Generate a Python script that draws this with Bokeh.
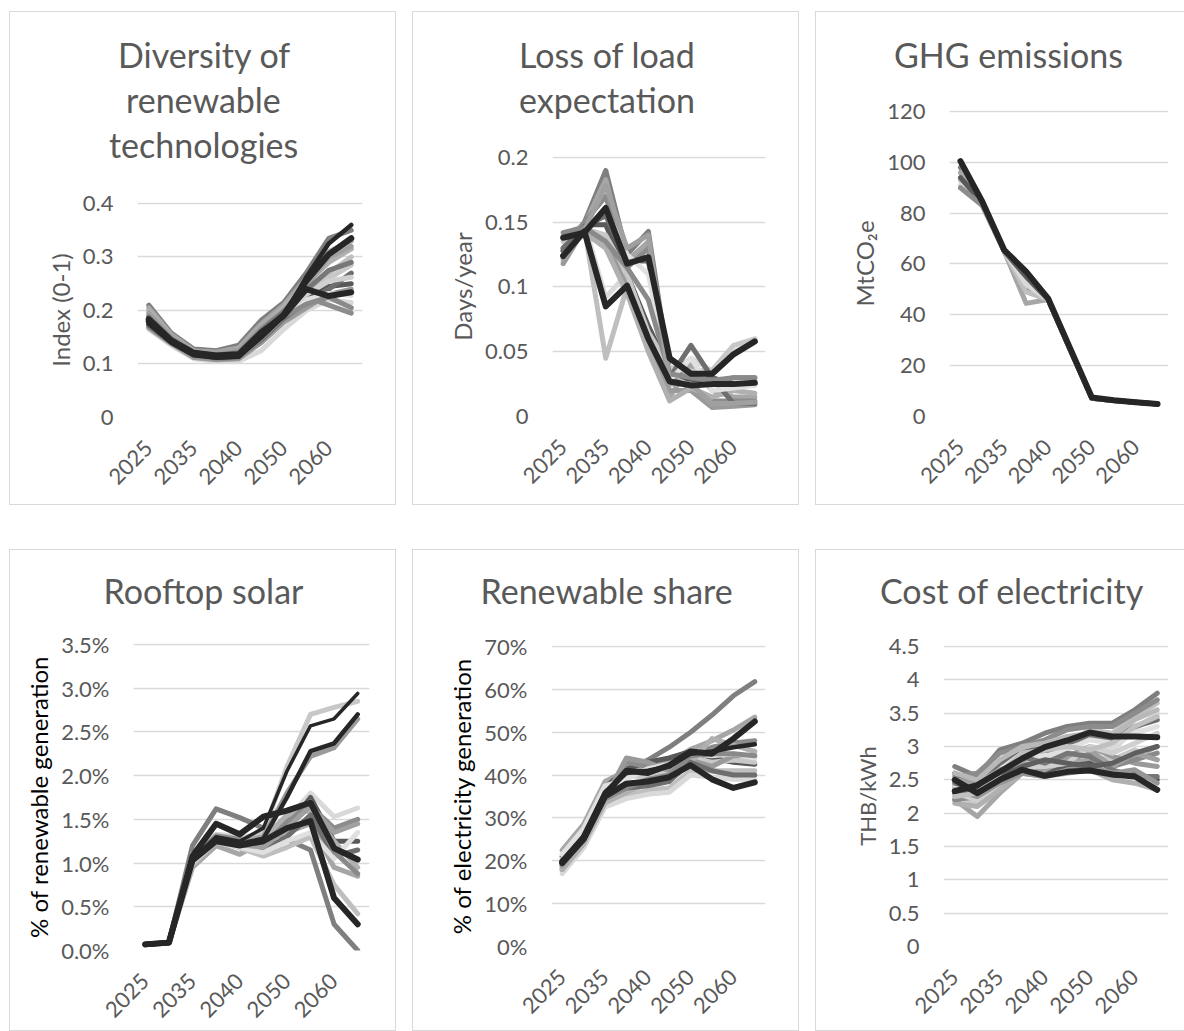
import math
from bokeh.plotting import figure
from bokeh.layouts import row, column, Spacer
from bokeh.models import Range1d, FixedTicker, Title
from bokeh.embed import file_html
from bokeh.resources import INLINE

# ---------------- data ----------------
periods = ["2025", "2030", "2035", "2037", "2040", "2045", "2050", "2055", "2060", "2065"]
shown_period_idx = [0, 2, 4, 6, 8]

# Diversity of renewable technologies (index 0-1)
div_grey = [
    [0.210, 0.158, 0.128, 0.125, 0.135, 0.182, 0.215, 0.270, 0.335, 0.350],
    [0.205, 0.155, 0.125, 0.122, 0.130, 0.175, 0.210, 0.260, 0.310, 0.330],
    [0.170, 0.140, 0.115, 0.110, 0.112, 0.150, 0.190, 0.230, 0.270, 0.300],
    [0.165, 0.135, 0.110, 0.105, 0.105, 0.125, 0.165, 0.200, 0.220, 0.215],
    [0.175, 0.142, 0.118, 0.115, 0.118, 0.155, 0.190, 0.220, 0.245, 0.250],
    [0.190, 0.148, 0.120, 0.118, 0.120, 0.160, 0.200, 0.225, 0.210, 0.195],
    [0.180, 0.145, 0.120, 0.113, 0.115, 0.160, 0.195, 0.235, 0.260, 0.285],
    [0.168, 0.138, 0.112, 0.108, 0.110, 0.140, 0.178, 0.205, 0.230, 0.240],
    [0.200, 0.150, 0.122, 0.120, 0.128, 0.170, 0.205, 0.250, 0.290, 0.315],
    [0.172, 0.140, 0.116, 0.112, 0.114, 0.145, 0.185, 0.215, 0.240, 0.270],
    [0.185, 0.146, 0.120, 0.116, 0.118, 0.158, 0.195, 0.220, 0.232, 0.228],
    [0.178, 0.143, 0.117, 0.110, 0.112, 0.148, 0.188, 0.212, 0.225, 0.205],
    [0.195, 0.150, 0.124, 0.121, 0.126, 0.168, 0.200, 0.245, 0.300, 0.320],
    [0.182, 0.144, 0.118, 0.114, 0.117, 0.156, 0.193, 0.230, 0.255, 0.262],
    [0.188, 0.147, 0.121, 0.117, 0.121, 0.163, 0.198, 0.238, 0.275, 0.290],
]
div_black = [
    [0.175, 0.140, 0.117, 0.112, 0.114, 0.150, 0.190, 0.262, 0.325, 0.360],
    [0.180, 0.142, 0.118, 0.113, 0.115, 0.156, 0.192, 0.255, 0.305, 0.335],
    [0.184, 0.144, 0.121, 0.116, 0.118, 0.159, 0.190, 0.240, 0.227, 0.234],
]

# Loss of load expectation (days/year)
lole_grey = [
    [0.128, 0.150, 0.190, 0.125, 0.143, 0.035, 0.030, 0.025, 0.030, 0.030],
    [0.125, 0.148, 0.183, 0.120, 0.135, 0.015, 0.040, 0.020, 0.015, 0.015],
    [0.120, 0.145, 0.045, 0.100, 0.060, 0.030, 0.025, 0.010, 0.010, 0.012],
    [0.140, 0.148, 0.092, 0.110, 0.060, 0.033, 0.045, 0.035, 0.050, 0.058],
    [0.128, 0.148, 0.148, 0.110, 0.070, 0.035, 0.028, 0.030, 0.025, 0.025],
    [0.130, 0.150, 0.170, 0.115, 0.130, 0.030, 0.022, 0.012, 0.012, 0.012],
    [0.135, 0.145, 0.140, 0.110, 0.065, 0.038, 0.035, 0.036, 0.055, 0.060],
    [0.118, 0.145, 0.135, 0.100, 0.055, 0.020, 0.020, 0.007, 0.008, 0.009],
    [0.125, 0.142, 0.130, 0.095, 0.050, 0.012, 0.022, 0.015, 0.020, 0.018],
    [0.130, 0.147, 0.155, 0.120, 0.120, 0.030, 0.055, 0.030, 0.010, 0.010],
    [0.140, 0.145, 0.160, 0.125, 0.110, 0.028, 0.045, 0.020, 0.022, 0.024],
    [0.142, 0.146, 0.135, 0.115, 0.090, 0.033, 0.030, 0.028, 0.030, 0.030],
    [0.122, 0.144, 0.178, 0.130, 0.140, 0.025, 0.025, 0.010, 0.010, 0.011],
]
lole_black = [
    [0.138, 0.142, 0.161, 0.118, 0.123, 0.045, 0.033, 0.033, 0.048, 0.058],
    [0.124, 0.143, 0.085, 0.101, 0.060, 0.027, 0.024, 0.025, 0.025, 0.026],
]

# GHG emissions (MtCO2e)
ghg_grey = [
    [98.0, 84.0, 65.0, 50.0, 46.0, 26.5, 7.2, 6.3, 5.6, 4.9],
    [96.0, 83.0, 65.0, 44.5, 46.0, 26.5, 7.2, 6.3, 5.6, 4.9],
    [93.0, 83.0, 65.0, 49.0, 46.0, 26.5, 7.2, 6.3, 5.6, 4.9],
    [91.0, 83.0, 65.0, 52.0, 46.0, 26.5, 7.2, 6.3, 5.6, 4.9],
    [94.0, 84.0, 65.0, 55.0, 46.0, 26.5, 7.2, 6.3, 5.6, 4.9],
    [90.0, 83.0, 65.0, 57.0, 46.0, 26.5, 7.2, 6.3, 5.6, 4.9],
]
ghg_black = [
    [100.5, 84.5, 65.5, 57.0, 46.5, 27.0, 7.5, 6.4, 5.6, 4.9],
]

# Rooftop solar (% of renewable generation)
roof_grey = [
    [0.0007, 0.0009, 0.0120, 0.0162, 0.0152, 0.0140, 0.0127, 0.0115, 0.0030, 0.0000],
    [0.0007, 0.0009, 0.0095, 0.0120, 0.0110, 0.0125, 0.0135, 0.0145, 0.0095, 0.0085],
    [0.0007, 0.0009, 0.0098, 0.0125, 0.0117, 0.0108, 0.0118, 0.0130, 0.0075, 0.0042],
    [0.0007, 0.0009, 0.0110, 0.0133, 0.0130, 0.0120, 0.0150, 0.0180, 0.0153, 0.0163],
    [0.0007, 0.0009, 0.0108, 0.0130, 0.0128, 0.0125, 0.0140, 0.0175, 0.0125, 0.0125],
    [0.0007, 0.0009, 0.0102, 0.0127, 0.0123, 0.0120, 0.0148, 0.0165, 0.0140, 0.0150],
    [0.0007, 0.0009, 0.0107, 0.0132, 0.0128, 0.0135, 0.0210, 0.0270, 0.0278, 0.0285],
    [0.0007, 0.0009, 0.0104, 0.0128, 0.0124, 0.0130, 0.0180, 0.0222, 0.0232, 0.0265],
    [0.0007, 0.0009, 0.0105, 0.0129, 0.0125, 0.0128, 0.0155, 0.0160, 0.0125, 0.0095],
    [0.0007, 0.0009, 0.0103, 0.0127, 0.0122, 0.0115, 0.0130, 0.0155, 0.0108, 0.0115],
    [0.0007, 0.0009, 0.0101, 0.0124, 0.0118, 0.0112, 0.0125, 0.0135, 0.0105, 0.0135],
    [0.0007, 0.0009, 0.0106, 0.0131, 0.0127, 0.0123, 0.0145, 0.0170, 0.0113, 0.0088],
    [0.0007, 0.0009, 0.0103, 0.0126, 0.0121, 0.0118, 0.0140, 0.0165, 0.0135, 0.0145],
]
roof_black = [
    [0.0007, 0.0009, 0.0105, 0.0130, 0.0125, 0.0140, 0.0205, 0.0257, 0.0265, 0.0294],
    [0.0007, 0.0009, 0.0104, 0.0128, 0.0122, 0.0128, 0.0175, 0.0228, 0.0237, 0.0270],
    [0.0007, 0.0009, 0.0103, 0.0125, 0.0120, 0.0125, 0.0140, 0.0148, 0.0060, 0.0030],
    [0.0007, 0.0009, 0.0108, 0.0145, 0.0133, 0.0153, 0.0160, 0.0169, 0.0117, 0.0104],
]

# Renewable share (% of electricity generation)
res_grey = [
    [0.190, 0.250, 0.350, 0.410, 0.435, 0.465, 0.500, 0.540, 0.585, 0.618],
    [0.225, 0.285, 0.385, 0.410, 0.420, 0.430, 0.460, 0.480, 0.505, 0.535],
    [0.175, 0.235, 0.330, 0.350, 0.365, 0.370, 0.410, 0.410, 0.410, 0.410],
    [0.170, 0.230, 0.325, 0.345, 0.355, 0.360, 0.400, 0.395, 0.390, 0.390],
    [0.210, 0.270, 0.370, 0.415, 0.430, 0.440, 0.455, 0.440, 0.430, 0.425],
    [0.180, 0.240, 0.340, 0.430, 0.420, 0.400, 0.440, 0.465, 0.475, 0.480],
    [0.205, 0.260, 0.365, 0.400, 0.395, 0.410, 0.440, 0.430, 0.435, 0.430],
    [0.185, 0.245, 0.345, 0.440, 0.430, 0.410, 0.435, 0.420, 0.445, 0.445],
    [0.180, 0.240, 0.335, 0.360, 0.380, 0.390, 0.430, 0.485, 0.470, 0.455],
    [0.200, 0.260, 0.355, 0.370, 0.375, 0.385, 0.430, 0.410, 0.400, 0.400],
    [0.215, 0.275, 0.375, 0.390, 0.415, 0.425, 0.450, 0.445, 0.450, 0.440],
    [0.190, 0.250, 0.345, 0.370, 0.390, 0.400, 0.445, 0.450, 0.450, 0.445],
]
res_black = [
    [0.200, 0.255, 0.360, 0.405, 0.410, 0.420, 0.450, 0.455, 0.465, 0.472],
    [0.195, 0.250, 0.350, 0.380, 0.385, 0.395, 0.423, 0.390, 0.370, 0.383],
    [0.198, 0.255, 0.355, 0.410, 0.405, 0.423, 0.455, 0.450, 0.485, 0.525],
]

# Cost of electricity (THB/kWh)
cost_grey = [
    [2.70, 2.55, 2.95, 3.05, 3.20, 3.30, 3.35, 3.35, 3.55, 3.80],
    [2.20, 1.95, 2.30, 2.60, 2.70, 2.75, 2.80, 2.70, 2.85, 3.00],
    [2.45, 2.50, 2.70, 2.95, 3.00, 3.05, 3.25, 3.20, 3.45, 3.65],
    [2.30, 2.30, 2.55, 2.85, 2.90, 2.85, 3.00, 2.95, 3.25, 3.50],
    [2.40, 2.20, 2.45, 2.62, 2.60, 2.70, 2.75, 2.55, 2.60, 2.50],
    [2.55, 2.60, 2.90, 3.00, 3.10, 3.25, 3.30, 3.30, 3.50, 3.70],
    [2.25, 2.15, 2.40, 2.75, 2.80, 2.90, 2.85, 2.80, 2.95, 2.80],
    [2.35, 2.35, 2.60, 2.80, 2.95, 2.85, 3.00, 2.85, 2.75, 2.70],
    [2.15, 2.10, 2.35, 2.60, 2.55, 2.60, 2.65, 2.50, 2.45, 2.35],
    [2.60, 2.45, 2.75, 2.90, 3.00, 3.05, 3.15, 3.10, 3.30, 3.40],
    [2.40, 2.40, 2.65, 2.90, 2.85, 2.95, 3.10, 3.05, 3.20, 3.30],
    [2.20, 2.25, 2.50, 2.70, 2.75, 2.80, 2.90, 2.70, 2.80, 2.90],
    [2.50, 2.45, 2.65, 2.75, 2.65, 2.80, 2.95, 2.70, 2.90, 2.80],
    [2.30, 2.20, 2.45, 2.70, 2.70, 2.75, 3.00, 2.90, 3.05, 3.20],
    [2.45, 2.35, 2.55, 2.85, 2.75, 2.90, 2.85, 2.65, 2.55, 2.55],
    [2.60, 2.50, 2.80, 3.00, 3.05, 3.15, 3.20, 3.15, 3.40, 3.55],
    [2.35, 2.25, 2.45, 2.60, 2.55, 2.65, 2.70, 2.60, 2.65, 2.45],
    [2.30, 2.35, 2.55, 2.70, 2.80, 2.75, 2.70, 2.75, 2.90, 3.00],
    [2.25, 2.30, 2.60, 2.90, 2.95, 3.00, 2.95, 3.05, 3.30, 3.45],
]
cost_black = [
    [2.50, 2.30, 2.50, 2.65, 2.56, 2.62, 2.64, 2.58, 2.55, 2.35],
    [2.33, 2.42, 2.62, 2.82, 2.99, 3.09, 3.21, 3.15, 3.15, 3.14],
]

# y-axis ticks and labels
div_ticks = [0, 0.1, 0.2, 0.3, 0.4]
div_labels = ["0", "0.1", "0.2", "0.3", "0.4"]
lole_ticks = [0, 0.05, 0.1, 0.15, 0.2]
lole_labels = ["0", "0.05", "0.1", "0.15", "0.2"]
ghg_ticks = [0, 20, 40, 60, 80, 100, 120]
ghg_labels = ["0", "20", "40", "60", "80", "100", "120"]
roof_ticks = [0, 0.005, 0.01, 0.015, 0.02, 0.025, 0.03, 0.035]
roof_labels = ["0.0%", "0.5%", "1.0%", "1.5%", "2.0%", "2.5%", "3.0%", "3.5%"]
res_ticks = [0, 0.1, 0.2, 0.3, 0.4, 0.5, 0.6, 0.7]
res_labels = ["0%", "10%", "20%", "30%", "40%", "50%", "60%", "70%"]
cost_ticks = [0, 0.5, 1, 1.5, 2, 2.5, 3, 3.5, 4, 4.5]
cost_labels = ["0", "0.5", "1", "1.5", "2", "2.5", "3", "3.5", "4", "4.5"]

# ---------------- styling ----------------
FONT = "Lato"
TXT = "#595959"
GRID = "#d9d9d9"
GREYS = ["#7f7f7f", "#a6a6a6", "#bfbfbf", "#d9d9d9", "#595959", "#8c8c8c",
         "#c8c8c8", "#9a9a9a", "#b0b0b0", "#6e6e6e", "#e0e0e0", "#8a8a8a",
         "#a0a0a0", "#d0d0d0", "#777777", "#b8b8b8", "#969696", "#5f5f5f", "#c0c0c0"]
GREY_W = 5.0
BLACK_W = [3.5, 4.5, 6.0, 6.0]
REF_W = 385            # nominal panel width used to centre titles
TITLE_SIZE = "34px"
TITLE_H = 43.3         # rendered line box of a 34px title line
TITLE_DESC = 8.2       # descent below baseline
LINE_GAP = 45          # baseline-to-baseline distance of title lines
# approximate rendered widths of the title lines (px at 34px Lato), used to centre them on the panel
TITLE_W = {"Diversity of": 170, "renewable": 154, "technologies": 188,
           "Loss of load": 174, "expectation": 174, "GHG emissions": 230,
           "Rooftop solar": 199, "Renewable share": 251, "Cost of electricity": 258}


def make_panel(title_lines, first_base, ylabel, ylabel_color, ylabel_size, ticks, tick_labels,
               grey, black, W, H, left, right, top, bottom):
    fh = H - top - bottom
    ymax = ticks[-1]
    p = figure(width=W, height=H, output_backend="svg", toolbar_location=None,
               title=None,
               x_range=Range1d(-0.5, 9.5),
               y_range=Range1d(0, ymax * (1 + 1.0 / fh)),
               min_border_left=left, min_border_right=right,
               min_border_top=top, min_border_bottom=bottom,
               outline_line_color=None, background_fill_color="white",
               border_fill_color="white")
    # title: a thin spacer next to the frame, then the lines (last line first)
    s_line = LINE_GAP - TITLE_H
    last_base = first_base + LINE_GAP * (len(title_lines) - 1)
    gap = top - (last_base + TITLE_DESC + s_line / 2)
    p.add_layout(Title(text=" ", text_font_size="1px", standoff=max(gap - 1.2, 0)), "above")
    for line in reversed(title_lines):
        off = REF_W / 2 - left - TITLE_W[line] / 2
        p.add_layout(Title(text=line, align="left", offset=off, standoff=s_line,
                           text_font=FONT, text_font_size=TITLE_SIZE,
                           text_font_style="normal", text_color=TXT), "above")
    # axes
    p.xaxis.ticker = FixedTicker(ticks=shown_period_idx)
    p.xaxis.major_label_overrides = {i: periods[i] for i in shown_period_idx}
    p.xaxis.major_label_orientation = math.pi / 4
    p.yaxis.ticker = FixedTicker(ticks=ticks)
    p.yaxis.major_label_overrides = {tk: lb for tk, lb in zip(ticks, tick_labels)}
    for ax in (p.xaxis, p.yaxis):
        ax.axis_line_color = None
        ax.major_tick_line_color = None
        ax.minor_tick_line_color = None
        ax.major_label_text_font = FONT
        ax.major_label_text_font_size = "22px"
        ax.major_label_text_color = TXT
    p.xaxis.major_label_standoff = 21
    p.yaxis.major_label_standoff = 18
    p.yaxis.axis_label = ylabel
    p.yaxis.axis_label_text_font = FONT
    p.yaxis.axis_label_text_font_size = ylabel_size
    p.yaxis.axis_label_text_font_style = "normal"
    p.yaxis.axis_label_text_color = ylabel_color
    p.yaxis.axis_label_standoff = 5
    p.xgrid.grid_line_color = None
    p.ygrid.ticker = FixedTicker(ticks=ticks)
    p.ygrid.grid_line_color = GRID
    p.ygrid.grid_line_width = 1.5
    xs = list(range(len(periods)))
    for k, vals in enumerate(grey):
        p.line(xs, vals, line_color=GREYS[k % len(GREYS)], line_width=GREY_W,
               line_join="round", line_cap="round")
    nb = len(black)
    for k, vals in enumerate(black):
        w = BLACK_W[len(BLACK_W) - nb + k]
        p.line(xs, vals, line_color="#262626", line_width=w,
               line_join="round", line_cap="round")
    return column(p, spacing=0, styles={"border": "1px solid #d9d9d9"})


p1 = make_panel(["Diversity of", "renewable", "technologies"], 56, "Index (0-1)", TXT, "24px",
                div_ticks, div_labels, div_grey, div_black,
                385, 492, 127, 33, 190, 87)
p2 = make_panel(["Loss of load", "expectation"], 56, "Days/year", TXT, "24px",
                lole_ticks, lole_labels, lole_grey, lole_black,
                385, 492, 139, 33, 144, 88)
p3 = make_panel(["GHG emissions"], 56, "MtCO\u2082e", TXT, "24px",
                ghg_ticks, ghg_labels, ghg_grey, ghg_black,
                372, 492, 133, 20, 98, 88)
p4 = make_panel(["Rooftop solar"], 54, "% of renewable generation", "#000000", "24px",
                roof_ticks, roof_labels, roof_grey, roof_black,
                385, 480, 123, 26, 93, 80)
p5 = make_panel(["Renewable share"], 54, "% of electricity generation", "#000000", "24px",
                res_ticks, res_labels, res_grey, res_black,
                385, 480, 138, 33, 95, 84)
p6 = make_panel(["Cost of electricity"], 54, "THB/kWh", TXT, "22px",
                cost_ticks, cost_labels, cost_grey, cost_black,
                372, 480, 127, 20, 95, 84)

grid = column(row(p1, p2, p3, spacing=16),
              row(p4, p5, p6, spacing=16),
              spacing=44)
layout = column(Spacer(height=11), row(Spacer(width=9), grid, spacing=0), spacing=0)

open("out.html", "w").write(file_html(layout, INLINE))
